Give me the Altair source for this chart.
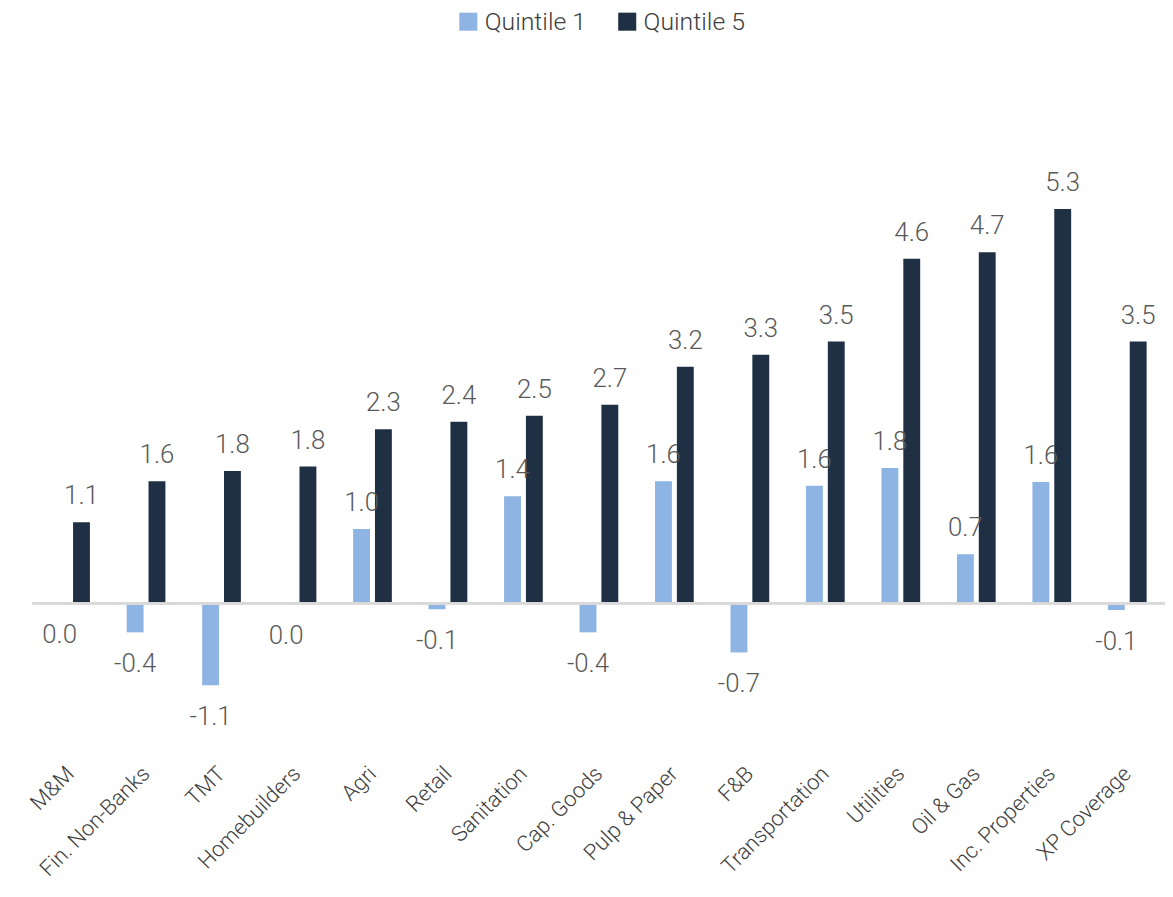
import altair as alt
import pandas as pd

categories = ["M&M", "Fin. Non-Banks", "TMT", "Homebuilders", "Agri", "Retail",
              "Sanitation", "Cap. Goods", "Pulp & Paper", "F&B", "Transportation",
              "Utilities", "Oil & Gas", "Inc. Properties", "XP Coverage"]
series = ["Quintile 1", "Quintile 5"]
quintile1 = [0.0, -0.39, -1.1, -0.01, 1.0, -0.08, 1.44, -0.39, 1.64, -0.66,
             1.58, 1.82, 0.66, 1.63, -0.09]
quintile5 = [1.09, 1.64, 1.78, 1.84, 2.34, 2.44, 2.52, 2.67, 3.18, 3.34,
             3.52, 4.63, 4.72, 5.3, 3.52]
colors = ["#8EB4E3", "#1F3045"]

rows = []
for i, c in enumerate(categories):
    for s, vals in zip(series, [quintile1, quintile5]):
        v = vals[i]
        lab = f"{v:.1f}"
        if lab == "-0.0":
            lab = "0.0"
        rows.append({"category": c, "series": s, "value": v, "label": lab})
df = pd.DataFrame(rows)

FONT = "'Roboto Light', Roboto"

x = alt.X("category:N", sort=categories,
          scale=alt.Scale(paddingInner=0, paddingOuter=0),
          axis=alt.Axis(title=None, labelAngle=-45, labelFontSize=22, labelFont=FONT,
                        labelFontWeight=300, labelColor="#404040", domain=False,
                        ticks=False, labelPadding=29, labelAlign="right",
                        labelBaseline="middle"))
y = alt.Y("value:Q", scale=alt.Scale(domain=[-1.85, 7], nice=False, zero=False), axis=None)
color = alt.Color("series:N",
                  scale=alt.Scale(domain=series, range=colors),
                  legend=alt.Legend(title=None, orient="none", direction="horizontal",
                                    legendX=426, legendY=-74, symbolType="square",
                                    symbolSize=330, symbolStrokeWidth=0,
                                    labelFontSize=25, labelFont=FONT, labelFontWeight=300,
                                    labelColor="#404040", columnPadding=28,
                                    labelOffset=4))

base = alt.Chart(df)
BAR_W = 17
OFF = {"Quintile 1": -11, "Quintile 5": 11}

txt_style = dict(fontSize=26, font=FONT, fontWeight=300, color="#595959",
                 baseline="alphabetic", align="center")

layers = []
for s in series:
    sub = base.transform_filter(alt.datum.series == s)
    layers.append(sub.mark_bar(width=BAR_W, xOffset=OFF[s]).encode(x=x, y=y, color=color))
for s in series:
    sub = base.transform_filter(alt.datum.series == s)
    layers.append(sub.transform_filter("datum.value > 0").mark_text(
        dx=OFF[s], dy=-18, **txt_style).encode(x=x, y=y, text="label:N"))
    layers.append(sub.transform_filter("datum.value <= 0").mark_text(
        dx=OFF[s], dy=40, **txt_style).encode(x=x, y=y, text="label:N"))

rule = base.mark_rule(color="#d9d9d9", strokeWidth=2).encode(y=alt.datum(0))
layers.append(rule)

chart = alt.layer(*layers).properties(
    width=1140, height=663,
    autosize=alt.AutoSizeParams(type="none"),
    padding={"left": 25, "top": 72, "right": 0, "bottom": 140},
).configure_view(stroke=None)

chart.save("out.html", embed_options={"renderer": "svg", "actions": False})
